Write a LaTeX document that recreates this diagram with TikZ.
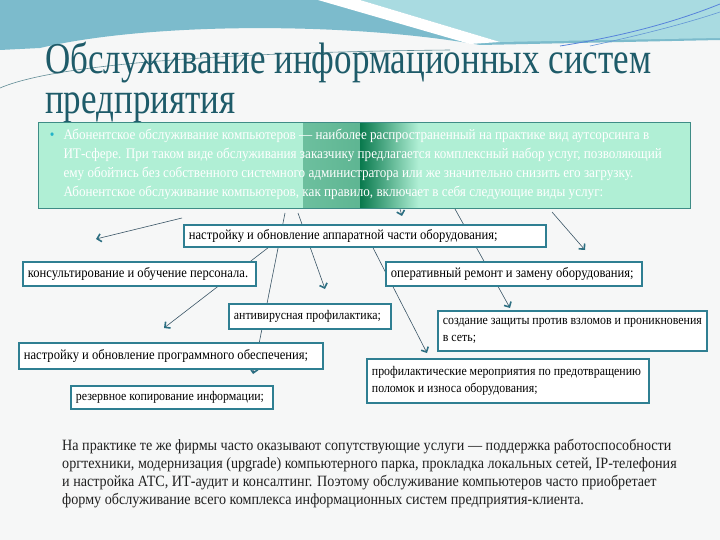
\documentclass[tikz,border=0pt]{standalone}
\usepackage{fontspec}
\setmainfont{Liberation Serif}
\newfontfamily\titlefont[FakeStretch=0.795]{Liberation Serif}
\newfontfamily\boxfont[FakeStretch=0.9]{Liberation Serif}
\usepackage{xcolor}
\usetikzlibrary{positioning}
\usetikzlibrary{arrows.meta}
\usetikzlibrary{backgrounds}

\definecolor{titlec}{HTML}{1E5B69}
\definecolor{boxc}{HTML}{2F7F92}
\definecolor{mint}{HTML}{B0EFD5}
\definecolor{mintdark}{HTML}{0A7A4E}
\definecolor{abonbdr}{HTML}{3E8C86}
\definecolor{bulc}{HTML}{22B3C9}
\definecolor{linec}{HTML}{3A5566}
\definecolor{tipc}{HTML}{2C6F82}
\definecolor{pagec}{HTML}{F6F7F7}
\definecolor{wavea}{HTML}{7CBBCC}
\definecolor{waveb}{HTML}{A9DBE1}

\begin{document}
\begin{tikzpicture}[x=1pt,y=-1pt,
	usl/.style={draw=boxc, line width=1.8pt, fill=white, anchor=north west, inner xsep=5pt, inner ysep=1pt, align=flush left, font=\boxfont\fontsize{14}{17}\selectfont},
	melk/.style={font=\boxfont\fontsize{13.2}{17}\selectfont},
	strel/.style={draw=linec, line width=0.6pt, -{Straight Barb[length=4pt,width=8pt,line width=1.6pt,color=tipc]}}]
		\useasboundingbox (0,0) rectangle (720,540);
		
		\node[anchor=north west, inner sep=0pt, align=left, text=titlec, font=\titlefont\fontsize{44}{40}\selectfont] at (45,42) (zag) {Обслуживание информационных систем\\предприятия};
		
		\node[draw=abonbdr, line width=1pt, fill=mint, anchor=north west, minimum width=652pt, minimum height=86pt, text width=602pt, inner xsep=25pt, align=flush left, text=white, font=\boxfont\fontsize{14.6}{19}\selectfont,
			path picture={\shade[left color=mint, right color=mintdark] ([xshift=265pt]path picture bounding box.south west) rectangle ([xshift=322pt]path picture bounding box.north west);
				\shade[left color=mintdark, right color=mint] ([xshift=322pt]path picture bounding box.south west) rectangle ([xshift=380pt]path picture bounding box.north west);}]
			at (38,122) (abon) {\llap{{\color{bulc}\textbullet}\hspace{9pt}}Абонентское обслуживание компьютеров — наиболее распространенный на практике вид аутсорсинга в\\
			ИТ-сфере. При таком виде обслуживания заказчику предлагается комплексный набор услуг, позволяющий\\
			ему обойтись без собственного системного администратора или же значительно снизить его загрузку.\\
			Абонентское обслуживание компьютеров, как правило, включает в себя следующие виды услуг:\vspace{3pt}};
		
		\node[usl, text width=352pt, minimum height=22pt] at (183,224) (hw) {настройку и обновление аппаратной части оборудования;};
		\node[usl, text width=223pt, minimum height=24pt] at (22,261) (kons) {консультирование и обучение персонала.};
		\node[usl, text width=246pt, minimum height=24pt] at (385,261) (remont) {оперативный ремонт и замену оборудования;};
		\node[usl, melk, text width=152pt, minimum height=25pt] at (228,303) (antivir) {антивирусная профилактика;};
		\node[usl, melk, text width=259pt, minimum height=40pt] at (437,310) (zasch) {создание защиты против взломов и проникновения\\в сеть;};
		\node[usl, text width=294pt, minimum height=26pt] at (18,342) (soft) {настройку и обновление программного обеспечения;};
		\node[usl, melk, text width=272pt, minimum height=44pt] at (366,358) (profil) {профилактические мероприятия по предотвращению\\поломок и износа оборудования;};
		\node[usl, melk, text width=192pt, minimum height=23pt] at (70,385) (rezerv) {резервное копирование информации;};
		
		\node[anchor=north west, inner sep=0pt, align=left, text=black!88, font=\boxfont\fontsize{15.7}{18}\selectfont] at (62,439) (prak) {На практике те же фирмы часто оказывают сопутствующие услуги — поддержка работоспособности\\
			оргтехники, модернизация (upgrade) компьютерного парка, прокладка локальных сетей, IP-телефония\\
			и настройка АТС, ИТ-аудит и консалтинг. Поэтому обслуживание компьютеров часто приобретает\\
			форму обслуживание всего комплекса информационных систем предприятия-клиента.};
		
		% free ends of the arrows
		\coordinate (s1) at (182,218); \coordinate (e1) at (96,239);
		\coordinate (s2) at (285,213); \coordinate (e2) at (253,374);
		\coordinate (s3) at (298,213); \coordinate (e3) at (325,289);
		\coordinate (e4) at (164,328);
		\coordinate (e5) at (402,216);
		\coordinate (s6) at (455,209); \coordinate (e6) at (510,308);
		\coordinate (s7) at (552,212); \coordinate (e7) at (585,250);
		\coordinate (e8) at (427,353);
		
		\begin{scope}[on background layer]
			\fill[pagec] (0,0) rectangle (720,540);
			\fill[wavea] (0,0) -- (720,0) -- (720,40) -- (480,45) .. controls (350,22) and (150,22) .. (40,48) -- (0,50) -- cycle;
			\fill[waveb] (360,0) -- (720,0) -- (720,38) -- (500,42) -- cycle;
			\fill[white] (318,0) -- (360,0) -- (500,42) -- (470,44) -- cycle;
			\draw[wavea!70!blue, line width=0.8pt] (560,46) .. controls (630,35) and (680,20) .. (720,4);
			\draw[wavea!80!blue, line width=0.6pt] (590,46) .. controls (650,33) and (690,22) .. (720,12);
			\draw[titlec!70, line width=0.6pt] (0,88) .. controls (60,62) and (250,52) .. (450,50);
			
			\draw[strel] (s1) -- (e1);
			\draw[strel] (s2) -- (e2);
			\draw[strel] (s3) -- (e3);
			\draw[strel] ([xshift=85pt]hw.south west) -- (e4);
			\draw[strel] ([xshift=362pt]abon.south west) -- (e5);
			\draw[strel] (s6) -- (e6);
			\draw[strel] (s7) -- (e7);
			\draw[strel] ([xshift=190pt]hw.south west) -- (e8);
		\end{scope}
	\end{tikzpicture}
\end{document}
